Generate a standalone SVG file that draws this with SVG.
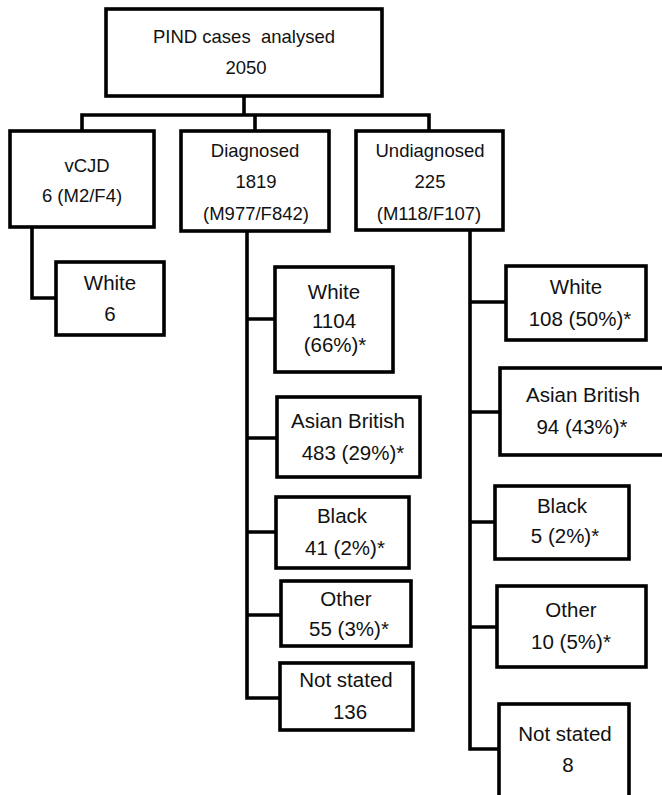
<svg xmlns="http://www.w3.org/2000/svg" width="662" height="795" viewBox="0 0 662 795">
<style>
rect.box{fill:#fff;stroke:#000;stroke-width:3.6}
.c{fill:none;stroke:#000;stroke-width:3.6;stroke-linejoin:miter;stroke-linecap:square}
text{font-family:"Liberation Sans",Arial,sans-serif;fill:#111;text-anchor:middle}
.t1{font-size:18.5px}
.t2{font-size:20.5px}
</style>
<rect width="662" height="795" fill="#fff"/>
<g id="connectors">
<path class="c" d="M244,96 V115 M82,115 H429 M82,115 V131 M255,115 V131 M429,115 V131"/>
<path class="c" d="M32,227 V298 H56"/>
<path class="c" d="M247,231 V698 H280 M247,319 H275 M247,438 H277 M247,532 H276 M247,615 H281"/>
<path class="c" d="M470,230 V749 H499 M470,302 H506 M470,412 H500 M470,522 H495 M470,627 H497"/>
</g>
<g id="root">
<rect class="box" x="106" y="9" width="276" height="87"/>
<text class="t1" x="244" y="43" xml:space="preserve">PIND cases  analysed</text>
<text class="t1" x="246" y="74">2050</text>
</g>
<g id="vcjd">
<rect class="box" x="10" y="131" width="144" height="96"/>
<text class="t1" x="87" y="172">vCJD</text>
<text class="t1" x="82" y="202">6 (M2/F4)</text>
</g>
<g id="diagnosed">
<rect class="box" x="181" y="131" width="148" height="100"/>
<text class="t1" x="255" y="157">Diagnosed</text>
<text class="t1" x="256" y="188">1819</text>
<text class="t1" x="256" y="220">(M977/F842)</text>
</g>
<g id="undiagnosed">
<rect class="box" x="356" y="131" width="147" height="99"/>
<text class="t1" x="430" y="157">Undiagnosed</text>
<text class="t1" x="430" y="188">225</text>
<text class="t1" x="429" y="220">(M118/F107)</text>
</g>
<g id="vcjd-white">
<rect class="box" x="56" y="262" width="108" height="73"/>
<text class="t2" x="110" y="290">White</text>
<text class="t2" x="110" y="321">6</text>
</g>
<g id="diag-white">
<rect class="box" x="275" y="267" width="118" height="105"/>
<text class="t2" x="334" y="299">White</text>
<text class="t2" x="334" y="328">1104</text>
<text class="t2" x="335" y="352">(66%)*</text>
</g>
<g id="diag-asian">
<rect class="box" x="277" y="397" width="143" height="80"/>
<text class="t2" x="348" y="428">Asian British</text>
<text class="t2" x="353" y="460">483 (29%)*</text>
</g>
<g id="diag-black">
<rect class="box" x="276" y="497" width="133" height="71"/>
<text class="t2" x="342" y="523">Black</text>
<text class="t2" x="345" y="555">41 (2%)*</text>
</g>
<g id="diag-other">
<rect class="box" x="281" y="581" width="130" height="65"/>
<text class="t2" x="346" y="606">Other</text>
<text class="t2" x="349" y="636">55 (3%)*</text>
</g>
<g id="diag-notstated">
<rect class="box" x="280" y="663" width="133" height="67"/>
<text class="t2" x="346" y="687">Not stated</text>
<text class="t2" x="350" y="719">136</text>
</g>
<g id="undiag-white">
<rect class="box" x="506" y="266" width="140" height="74"/>
<text class="t2" x="576" y="294">White</text>
<text class="t2" x="580" y="326">108 (50%)*</text>
</g>
<g id="undiag-asian">
<rect class="box" x="500" y="368" width="166" height="87"/>
<text class="t2" x="583" y="402">Asian British</text>
<text class="t2" x="582" y="434">94 (43%)*</text>
</g>
<g id="undiag-black">
<rect class="box" x="495" y="486" width="134" height="73"/>
<text class="t2" x="562" y="513">Black</text>
<text class="t2" x="565" y="543">5 (2%)*</text>
</g>
<g id="undiag-other">
<rect class="box" x="497" y="586" width="149" height="81"/>
<text class="t2" x="571" y="617">Other</text>
<text class="t2" x="571" y="649">10 (5%)*</text>
</g>
<g id="undiag-notstated">
<rect class="box" x="499" y="704" width="130" height="100"/>
<text class="t2" x="565" y="741">Not stated</text>
<text class="t2" x="568" y="772">8</text>
</g>
</svg>
